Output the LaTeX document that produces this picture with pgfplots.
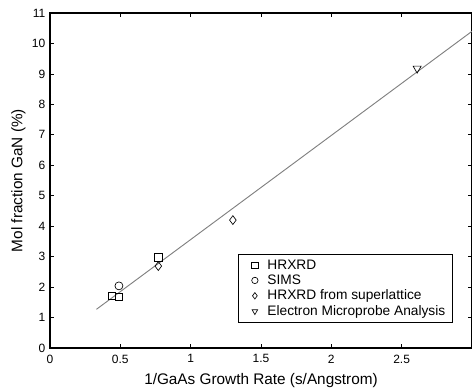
\documentclass[border=0pt]{standalone}
\usepackage{pgfplots}
\pgfplotsset{compat=1.18}
\usepackage{fontspec}
\setmainfont{Liberation Sans}
\begin{document}
\begin{tikzpicture}
\begin{axis}[
  scale only axis,
  width=316.5pt, height=251.25pt,
  xmin=0, xmax=3, ymin=0, ymax=11,
  xtick={0,0.5,1,1.5,2,2.5},
  xticklabels={0,0.5,1,1.5,2,2.5},
  ytick={0,1,...,11},
  tick align=inside,
  major tick length=3pt,
  tick style={black, line width=0.6pt},
  axis line style={line width=0.8pt},
  every axis plot/.append style={line width=0.6pt},
  tick label style={font=\fontsize{9}{10}\selectfont},
  xticklabel style={yshift=-1.5pt},
  /pgf/number format/assume math mode=true,
  xlabel={1/GaAs Growth Rate (s/Angstrom)},
  ylabel={Mol fraction GaN (\%)},
  label style={font=\fontsize{11.5}{13}\selectfont},
  xlabel style={yshift=-0.5pt},
  ylabel style={yshift=-2pt},
  legend style={at={(0.955,0.281)}, anchor=north east, font=\fontsize{10.3}{12}\selectfont,
    draw=black, line width=0.6pt, cells={anchor=west}, row sep=-1.3pt, inner xsep=3.5pt, inner ysep=2pt},
  legend cell align=left,
  legend image code/.code={\draw[#1, /tikz/only marks, mark size=2.4pt] plot coordinates {(0.3cm,0cm)}; \path (0cm,0cm) (0.55cm,0cm);},
]
\addplot[/tikz/only marks, mark=square, mark size=2.9pt, black, mark options={line width=0.5pt}] coordinates {(0.44,1.71) (0.49,1.68) (0.77,2.97)};
\addlegendentry{HRXRD}
\addplot[/tikz/only marks, mark=o, mark size=3pt, black, mark options={line width=0.5pt}] coordinates {(0.49,2.04)};
\addlegendentry{SIMS}
\addplot[/tikz/only marks, mark=diamond, mark size=3.3pt, black, mark options={line width=0.5pt}] coordinates {(0.77,2.69) (1.30,4.20)};
\addlegendentry{HRXRD from superlattice}
\addplot[/tikz/only marks, mark=triangle, mark size=3.5pt, black, mark options={rotate=180, line width=0.5pt}] coordinates {(2.61,9.18)};
\addlegendentry{Electron Microprobe Analysis}
\addplot[gray, line width=0.7pt, forget plot] coordinates {(0.33,1.27) (3.0,10.40)};
\end{axis}
\pgfresetboundingbox
\useasboundingbox ([xshift=-37.5pt,yshift=-29.25pt]current axis.south west) rectangle ([yshift=9.75pt]current axis.north east);
\end{tikzpicture}
\end{document}
